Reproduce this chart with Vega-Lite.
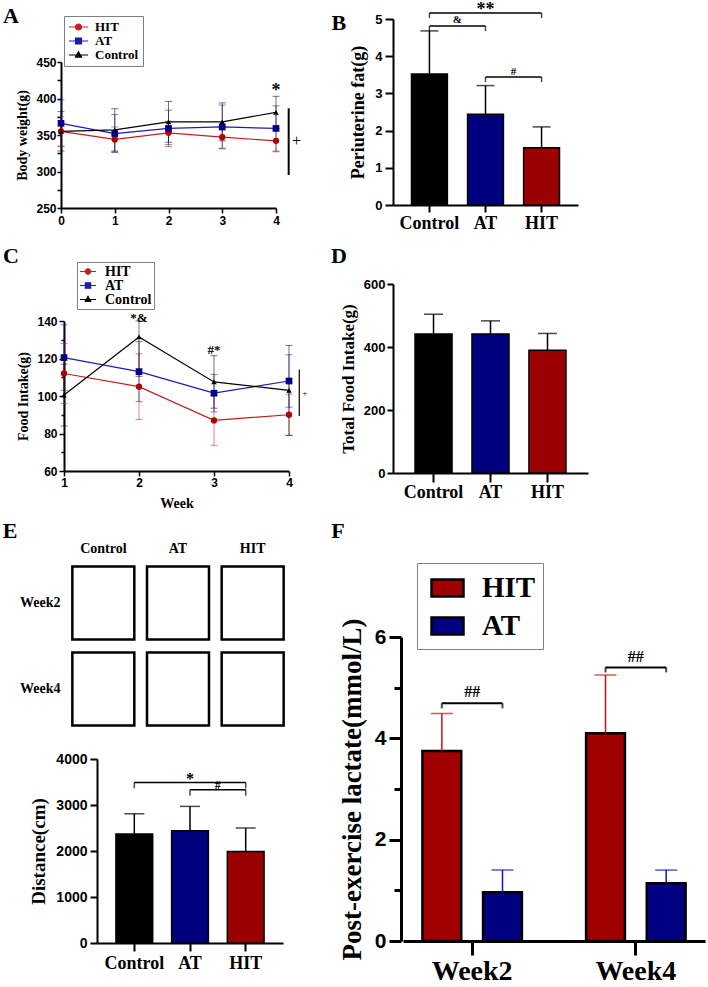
{
"$schema": "https://vega.github.io/schema/vega-lite/v6.json",
"width": 708, "height": 987, "autosize": {"type": "none"}, "padding": 0, "background": "white",
"config": {"view": {"stroke": null}, "axis": {"grid": false, "domainColor": "black", "tickColor": "black", "labelColor": "black", "titleColor": "black", "labelFlush": false, "labelOverlap": false}},
"datasets": {
"bw": [
{"week":0,"group":"HIT","mean":355,"err":20},{"week":1,"group":"HIT","mean":344,"err":17},{"week":2,"group":"HIT","mean":353,"err":16},{"week":3,"group":"HIT","mean":347,"err":15},{"week":4,"group":"HIT","mean":342,"err":15},
{"week":0,"group":"AT","mean":366,"err":32},{"week":1,"group":"AT","mean":352,"err":26},{"week":2,"group":"AT","mean":359,"err":25},{"week":3,"group":"AT","mean":361,"err":30},{"week":4,"group":"AT","mean":359,"err":31},
{"week":0,"group":"Control","mean":355,"err":27},{"week":1,"group":"Control","mean":357,"err":29},{"week":2,"group":"Control","mean":368,"err":28},{"week":3,"group":"Control","mean":368,"err":26},{"week":4,"group":"Control","mean":381,"err":22}],
"bwMarks": [{"label":"*","week":4,"level":403}],
"food": [
{"week":1,"group":"HIT","mean":112,"err":16},{"week":2,"group":"HIT","mean":105,"err":17.5},{"week":3,"group":"HIT","mean":87,"err":13.3},{"week":4,"group":"HIT","mean":90,"err":11},
{"week":1,"group":"AT","mean":120.5,"err":17.5},{"week":2,"group":"AT","mean":113,"err":16},{"week":3,"group":"AT","mean":101.5,"err":10},{"week":4,"group":"AT","mean":108,"err":14},
{"week":1,"group":"Control","mean":100.5,"err":16.5},{"week":2,"group":"Control","mean":131.5,"err":21},{"week":3,"group":"Control","mean":107.5,"err":14},{"week":4,"group":"Control","mean":103,"err":24}],
"foodMarks": [{"label":"*&","week":2,"level":139.4},{"label":"#*","week":3,"level":122.5}],
"fat": [{"group":"Control","mean":3.52,"upper":4.68},{"group":"AT","mean":2.44,"upper":3.21},{"group":"HIT","mean":1.54,"upper":2.1}],
"fatBrackets": [{"id":"c-h","group":"Control","level":5.16},{"id":"c-h","group":"HIT","level":5.16},{"id":"c-a","group":"Control","level":4.81},{"id":"c-a","group":"AT","level":4.81},{"id":"a-h","group":"AT","level":3.44},{"id":"a-h","group":"HIT","level":3.44}],
"fatMarks": [{"label":"**","anchor":"AT","level":5.11,"between":false},{"label":"&","anchor":"Control","level":4.89,"between":true},{"label":"#","anchor":"AT","level":3.49,"between":true}],
"total": [{"group":"Control","mean":441,"upper":504},{"group":"AT","mean":441,"upper":483},{"group":"HIT","mean":390,"upper":443}],
"maze": [{"group":"Control","week":"Week2"},{"group":"AT","week":"Week2"},{"group":"HIT","week":"Week2"},{"group":"Control","week":"Week4"},{"group":"AT","week":"Week4"},{"group":"HIT","week":"Week4"}],
"dist": [{"group":"Control","mean":2370,"upper":2811},{"group":"AT","mean":2441,"upper":2970},{"group":"HIT","mean":1991,"upper":2500}],
"distBrackets": [{"id":"c-h","group":"Control","level":3490},{"id":"c-h","group":"HIT","level":3490},{"id":"a-h","group":"AT","level":3333},{"id":"a-h","group":"HIT","level":3333}],
"distMarks": [{"label":"*","anchor":"AT","level":3463,"between":false},{"label":"#","anchor":"AT","level":3343,"between":true}],
"lact": [{"week":"Week2","group":"HIT","mean":3.75,"upper":4.49},{"week":"Week2","group":"AT","mean":0.96,"upper":1.4},{"week":"Week4","group":"HIT","mean":4.1,"upper":5.25},{"week":"Week4","group":"AT","mean":1.14,"upper":1.4}],
"lactBrackets": [{"week":"Week2","group":"HIT","level":4.69},{"week":"Week2","group":"AT","level":4.69},{"week":"Week4","group":"HIT","level":5.4},{"week":"Week4","group":"AT","level":5.4}],
"lactMarks": [{"label":"##","week":"Week2","level":4.81},{"label":"##","week":"Week4","level":5.5}]
},
"resolve": {
"scale": {"x":"independent","y":"independent","color":"independent","fill":"independent","stroke":"independent","shape":"independent","xOffset":"independent"},
"axis": {"x":"independent","y":"independent"},
"legend": {"color":"independent","fill":"independent","stroke":"independent","shape":"independent"}
},
"layer": [
{
"layer": [
{"data":{"name":"bw"},"mark":{"type":"errorbar","ticks":{"size":7},"thickness":1,"opacity":0.55},
 "encoding":{"x":{"field":"week","type":"quantitative","title":null},"y":{"field":"mean","type":"quantitative","title":"Body weight(g)"},"yError":{"field":"err"},"color":{"field":"group","type":"nominal","legend":null}}},
{"data":{"name":"bw"},"mark":{"type":"line","strokeWidth":1.2},
 "encoding":{
  "x":{"field":"week","type":"quantitative","scale":{"domain":[0,4],"range":[61,276],"nice":false,"zero":false},
       "axis":{"orient":"bottom","offset":-779,"values":[0,1,2,3,4],"format":"d","title":null,"tickSize":5,"tickWidth":1.5,"domainWidth":2,"labelFont":"Liberation Sans","labelFontSize":12,"labelFontWeight":"bold","labelPadding":2}},
  "y":{"field":"mean","type":"quantitative","scale":{"domain":[250,450],"range":[208,62],"nice":false,"zero":false},
       "axis":{"orient":"left","offset":-61,"values":[250,275,300,325,350,375,400,425,450],"format":"d","labelExpr":"datum.value % 50 === 0 ? datum.label : ''","title":"Body weight(g)","tickSize":4,"tickWidth":1.5,"domainWidth":2,"labelFont":"Liberation Sans","labelFontSize":12,"labelFontWeight":"bold","labelPadding":1,"titleFont":"Liberation Serif","titleFontSize":14,"titleFontWeight":"bold","titlePadding":6}},
  "color":{"field":"group","type":"nominal","scale":{"domain":["Control","AT","HIT"],"range":["#000000","#1c1cb0","#c41e1e"]},"legend":null}}},
{"data":{"name":"bw"},"transform":[{"filter":"datum.group === 'HIT'"}],"mark":{"type":"point","shape":"circle","filled":true,"size":40,"color":"#b00000","opacity":1},
 "encoding":{"x":{"field":"week","type":"quantitative"},"y":{"field":"mean","type":"quantitative"}}},
{"data":{"name":"bw"},"transform":[{"filter":"datum.group === 'AT'"}],"mark":{"type":"point","shape":"square","filled":true,"size":45,"color":"#00008c","opacity":1},
 "encoding":{"x":{"field":"week","type":"quantitative"},"y":{"field":"mean","type":"quantitative"}}},
{"data":{"name":"bw"},"transform":[{"filter":"datum.group === 'Control'"}],"mark":{"type":"point","shape":"triangle-up","filled":true,"size":30,"color":"#000000","opacity":1},
 "encoding":{"x":{"field":"week","type":"quantitative"},"y":{"field":"mean","type":"quantitative"}}},
{"data":{"name":"bwMarks"},"mark":{"type":"text","font":"Liberation Serif","fontWeight":"bold","fontSize":18,"baseline":"alphabetic","color":"black"},
 "encoding":{"x":{"field":"week","type":"quantitative"},"y":{"field":"level","type":"quantitative"},"text":{"field":"label"}}},
{"data":{"values":[{}]},"mark":{"type":"rule","strokeWidth":2,"color":"black"},
 "encoding":{"x":{"datum":4.236},"y":{"datum":386.6},"y2":{"datum":295.2}}},
{"data":{"values":[{}]},"mark":{"type":"text","text":"+","font":"Liberation Serif","fontSize":16,"baseline":"middle","align":"center","color":"black"},
 "encoding":{"x":{"datum":4.38},"y":{"datum":341.8}}},
{"data":{"values":[{}]},"mark":{"type":"text","text":"A","font":"Liberation Serif","fontSize":22,"fontWeight":"bold","baseline":"alphabetic","align":"left","color":"black"},
 "encoding":{"x":{"datum":-1.08},"y":{"datum":503}}},
{"data":{"name":"bw"},"transform":[{"filter":"false"}],"mark":{"type":"point","filled":true,"size":144,"strokeWidth":1.2},
 "encoding":{"x":{"field":"week","type":"quantitative"},"y":{"field":"mean","type":"quantitative"},
  "fill":{"field":"group","type":"nominal","scale":{"domain":["HIT","AT","Control"],"range":["#c41e1e","#1c1cb0","#000000"]},
    "legend":{"title":null,"orient":"none","legendX":64,"legendY":16,"padding":4,"strokeColor":"#808080","fillColor":"white","symbolSize":144,"symbolStrokeWidth":1.2,"symbolOffset":3.5,"labelOffset":9.5,"labelFont":"Liberation Serif","labelFontSize":13,"labelFontWeight":"bold","labelColor":"black","rowPadding":0,"symbolOpacity":1}},
  "stroke":{"field":"group","type":"nominal","scale":{"domain":["HIT","AT","Control"],"range":["#c41e1e","#1c1cb0","#000000"]},
    "legend":{"title":null,"orient":"none","legendX":64,"legendY":16,"padding":4,"strokeColor":"#808080","fillColor":"white","symbolSize":144,"symbolStrokeWidth":1.2,"symbolOffset":3.5,"labelOffset":9.5,"labelFont":"Liberation Serif","labelFontSize":13,"labelFontWeight":"bold","labelColor":"black","rowPadding":0,"symbolOpacity":1}},
  "shape":{"field":"group","type":"nominal","scale":{"domain":["HIT","AT","Control"],"range":["M-1.6,0H1.6M0.5,0A0.5,0.5 0 1 1 -0.5,0A0.5,0.5 0 1 1 0.5,0Z","M-1.6,0H1.6M-0.5,-0.5H0.5V0.5H-0.5Z","M-1.6,0H1.6M0,-0.55L0.5,0.35H-0.5Z"]},
    "legend":{"title":null,"orient":"none","legendX":64,"legendY":16,"padding":4,"strokeColor":"#808080","fillColor":"white","symbolSize":144,"symbolStrokeWidth":1.2,"symbolOffset":3.5,"labelOffset":9.5,"labelFont":"Liberation Serif","labelFontSize":13,"labelFontWeight":"bold","labelColor":"black","rowPadding":0,"symbolOpacity":1}}}}
]
},
{
"layer": [
{"data":{"name":"fat"},"mark":{"type":"bar","stroke":"black","strokeWidth":1.5},
 "encoding":{
  "x":{"field":"group","type":"nominal","scale":{"domain":["Control","AT","HIT"],"range":[393,578],"paddingInner":0.36,"paddingOuter":0.33},
       "axis":{"orient":"bottom","offset":-782,"title":null,"labelAngle":0,"tickSize":7,"tickWidth":2,"domainWidth":2,"labelFont":"Liberation Serif","labelFontSize":18,"labelFontWeight":"bold","labelPadding":2}},
  "y":{"field":"mean","type":"quantitative","scale":{"domain":[0,5],"range":[205,19],"nice":false,"zero":false},
       "axis":{"orient":"left","offset":-393,"values":[0,1,2,3,4,5],"format":"d","title":"Periuterine fat(g)","tickSize":8,"tickWidth":2,"domainWidth":2,"labelFont":"Liberation Sans","labelFontSize":13,"labelFontWeight":"bold","labelPadding":3,"titleFont":"Liberation Serif","titleFontSize":18,"titleFontWeight":"bold","titlePadding":7}},
  "color":{"field":"group","type":"nominal","scale":{"domain":["Control","AT","HIT"],"range":["#000000","#00007f","#9b0000"]},"legend":null}}},
{"data":{"name":"fat"},"mark":{"type":"rule","color":"black","strokeWidth":1.5},
 "encoding":{"x":{"field":"group","type":"nominal"},"y":{"field":"mean","type":"quantitative"},"y2":{"field":"upper"}}},
{"data":{"name":"fat"},"mark":{"type":"tick","color":"black","thickness":1.5,"size":18},
 "encoding":{"x":{"field":"group","type":"nominal"},"y":{"field":"upper","type":"quantitative"}}},
{"data":{"name":"fatBrackets"},"mark":{"type":"line","color":"black","strokeWidth":1.5},
 "encoding":{"x":{"field":"group","type":"nominal"},"y":{"field":"level","type":"quantitative"},"detail":{"field":"id"}}},
{"data":{"name":"fatBrackets"},"mark":{"type":"tick","orient":"vertical","color":"black","thickness":1.5,"size":5,"yOffset":2.5},
 "encoding":{"x":{"field":"group","type":"nominal"},"y":{"field":"level","type":"quantitative"}}},
{"data":{"name":"fatMarks"},"transform":[{"filter":"!datum.between"}],"mark":{"type":"text","font":"Liberation Serif","fontWeight":"bold","fontSize":18,"baseline":"alphabetic","color":"black"},
 "encoding":{"x":{"field":"anchor","type":"nominal"},"y":{"field":"level","type":"quantitative"},"text":{"field":"label"}}},
{"data":{"name":"fatMarks"},"transform":[{"filter":"datum.between"}],"mark":{"type":"text","font":"Liberation Serif","fontWeight":"bold","fontSize":11,"baseline":"alphabetic","color":"black"},
 "encoding":{"x":{"field":"anchor","type":"nominal","bandPosition":1.28},"y":{"field":"level","type":"quantitative"},"text":{"field":"label"}}},
{"data":{"values":[{}]},"mark":{"type":"text","text":"B","font":"Liberation Serif","fontSize":22,"fontWeight":"bold","baseline":"alphabetic","align":"left","color":"black","dx":-98},
 "encoding":{"x":{"datum":"Control"},"y":{"datum":4.7}}}
]
},
{
"layer": [
{"data":{"name":"food"},"mark":{"type":"errorbar","ticks":{"size":7},"thickness":1,"opacity":0.55},
 "encoding":{"x":{"field":"week","type":"quantitative","title":"Week"},"y":{"field":"mean","type":"quantitative","title":"Food Intake(g)"},"yError":{"field":"err"},"color":{"field":"group","type":"nominal","legend":null}}},
{"data":{"name":"food"},"mark":{"type":"line","strokeWidth":1.2},
 "encoding":{
  "x":{"field":"week","type":"quantitative","scale":{"domain":[1,4],"range":[64,289],"nice":false,"zero":false},
       "axis":{"orient":"bottom","offset":-516,"values":[1,2,3,4],"format":"d","title":"Week","tickSize":5,"tickWidth":1.5,"domainWidth":2,"labelFont":"Liberation Sans","labelFontSize":12,"labelFontWeight":"bold","labelPadding":1,"titleFont":"Liberation Serif","titleFontSize":14,"titleFontWeight":"bold","titlePadding":8}},
  "y":{"field":"mean","type":"quantitative","scale":{"domain":[60,140],"range":[471,321],"nice":false,"zero":false,"clamp":true},
       "axis":{"orient":"left","offset":-64,"values":[60,70,80,90,100,110,120,130,140],"format":"d","labelExpr":"datum.value % 20 === 0 ? datum.label : ''","tickSize":{"condition":{"test":"datum.value % 20 !== 0","value":3},"value":5},"title":"Food Intake(g)","tickWidth":1.5,"domainWidth":2,"labelFont":"Liberation Sans","labelFontSize":12,"labelFontWeight":"bold","labelPadding":2,"titleFont":"Liberation Serif","titleFontSize":14,"titleFontWeight":"bold","titlePadding":6}},
  "color":{"field":"group","type":"nominal","scale":{"domain":["Control","AT","HIT"],"range":["#000000","#1c1cb0","#c41e1e"]},"legend":null}}},
{"data":{"name":"food"},"transform":[{"filter":"datum.group === 'HIT'"}],"mark":{"type":"point","shape":"circle","filled":true,"size":40,"color":"#b00000","opacity":1},
 "encoding":{"x":{"field":"week","type":"quantitative"},"y":{"field":"mean","type":"quantitative"}}},
{"data":{"name":"food"},"transform":[{"filter":"datum.group === 'AT'"}],"mark":{"type":"point","shape":"square","filled":true,"size":45,"color":"#00008c","opacity":1},
 "encoding":{"x":{"field":"week","type":"quantitative"},"y":{"field":"mean","type":"quantitative"}}},
{"data":{"name":"food"},"transform":[{"filter":"datum.group === 'Control'"}],"mark":{"type":"point","shape":"triangle-up","filled":true,"size":30,"color":"#000000","opacity":1},
 "encoding":{"x":{"field":"week","type":"quantitative"},"y":{"field":"mean","type":"quantitative"}}},
{"data":{"name":"foodMarks"},"mark":{"type":"text","font":"Liberation Serif","fontWeight":"bold","fontSize":13,"baseline":"alphabetic","color":"black"},
 "encoding":{"x":{"field":"week","type":"quantitative"},"y":{"field":"level","type":"quantitative"},"text":{"field":"label"}}},
{"data":{"values":[{}]},"mark":{"type":"rule","strokeWidth":1.2,"color":"black"},
 "encoding":{"x":{"datum":4.137},"y":{"datum":114.1},"y2":{"datum":89.3}}},
{"data":{"values":[{}]},"mark":{"type":"text","text":"+","font":"Liberation Serif","fontSize":9,"baseline":"middle","align":"center","color":"black"},
 "encoding":{"x":{"datum":4.21},"y":{"datum":101.4}}},
{"data":{"values":[{}]},"mark":{"type":"text","text":"C","font":"Liberation Serif","fontSize":22,"fontWeight":"bold","baseline":"alphabetic","align":"left","color":"black","dy":-58},
 "encoding":{"x":{"datum":0.187},"y":{"datum":140}}},
{"data":{"name":"food"},"transform":[{"filter":"false"}],"mark":{"type":"point","filled":true,"size":144,"strokeWidth":1.2},
 "encoding":{"x":{"field":"week","type":"quantitative"},"y":{"field":"mean","type":"quantitative"},
  "fill":{"field":"group","type":"nominal","scale":{"domain":["HIT","AT","Control"],"range":["#c41e1e","#1c1cb0","#000000"]},
    "legend":{"title":null,"orient":"none","legendX":77,"legendY":262,"padding":2.5,"strokeColor":"#808080","fillColor":"white","symbolSize":144,"symbolStrokeWidth":1.2,"symbolOffset":1.5,"labelOffset":10,"labelFont":"Liberation Serif","labelFontSize":14,"labelFontWeight":"bold","labelColor":"black","rowPadding":0,"symbolOpacity":1,"labelExpr":"datum.label + '     '"}},
  "stroke":{"field":"group","type":"nominal","scale":{"domain":["HIT","AT","Control"],"range":["#c41e1e","#1c1cb0","#000000"]},
    "legend":{"title":null,"orient":"none","legendX":77,"legendY":262,"padding":2.5,"strokeColor":"#808080","fillColor":"white","symbolSize":144,"symbolStrokeWidth":1.2,"symbolOffset":1.5,"labelOffset":10,"labelFont":"Liberation Serif","labelFontSize":14,"labelFontWeight":"bold","labelColor":"black","rowPadding":0,"symbolOpacity":1,"labelExpr":"datum.label + '     '"}},
  "shape":{"field":"group","type":"nominal","scale":{"domain":["HIT","AT","Control"],"range":["M-1.35,0H1.35M0.45,0A0.45,0.45 0 1 1 -0.45,0A0.45,0.45 0 1 1 0.45,0Z","M-1.35,0H1.35M-0.45,-0.45H0.45V0.45H-0.45Z","M-1.35,0H1.35M0,-0.5L0.45,0.3H-0.45Z"]},
    "legend":{"title":null,"orient":"none","legendX":77,"legendY":262,"padding":2.5,"strokeColor":"#808080","fillColor":"white","symbolSize":144,"symbolStrokeWidth":1.2,"symbolOffset":1.5,"labelOffset":10,"labelFont":"Liberation Serif","labelFontSize":14,"labelFontWeight":"bold","labelColor":"black","rowPadding":0,"symbolOpacity":1,"labelExpr":"datum.label + '     '"}}}}
]
},
{
"layer": [
{"data":{"name":"total"},"mark":{"type":"bar","stroke":"black","strokeWidth":1.5},
 "encoding":{
  "x":{"field":"group","type":"nominal","scale":{"domain":["Control","AT","HIT"],"range":[393,588],"paddingInner":0.35,"paddingOuter":0.386},
       "axis":{"orient":"bottom","offset":-514,"title":null,"labelAngle":0,"tickSize":9,"tickWidth":2,"domainWidth":2,"labelFont":"Liberation Serif","labelFontSize":18,"labelFontWeight":"bold","labelPadding":1}},
  "y":{"field":"mean","type":"quantitative","scale":{"domain":[0,600],"range":[473,284],"nice":false,"zero":false},
       "axis":{"orient":"left","offset":-393,"values":[0,200,400,600],"format":"d","title":"Total Food Intake(g)","tickSize":6,"tickWidth":2,"domainWidth":2,"labelFont":"Liberation Sans","labelFontSize":13,"labelFontWeight":"bold","labelPadding":2,"titleFont":"Liberation Serif","titleFontSize":17,"titleFontWeight":"bold","titlePadding":6}},
  "color":{"field":"group","type":"nominal","scale":{"domain":["Control","AT","HIT"],"range":["#000000","#00007f","#9b0000"]},"legend":null}}},
{"data":{"name":"total"},"mark":{"type":"rule","color":"black","strokeWidth":1.5},
 "encoding":{"x":{"field":"group","type":"nominal"},"y":{"field":"mean","type":"quantitative"},"y2":{"field":"upper"}}},
{"data":{"name":"total"},"mark":{"type":"tick","color":"black","thickness":1.5,"size":19},
 "encoding":{"x":{"field":"group","type":"nominal"},"y":{"field":"upper","type":"quantitative"}}},
{"data":{"values":[{}]},"mark":{"type":"text","text":"D","font":"Liberation Serif","fontSize":22,"fontWeight":"bold","baseline":"alphabetic","align":"left","color":"black","dx":-102.5},
 "encoding":{"x":{"datum":"Control"},"y":{"datum":667}}}
]
},
{
"layer": [
{"data":{"name":"maze"},"mark":{"type":"rect","filled":false,"color":"black","strokeWidth":2.5},
 "encoding":{
  "x":{"field":"group","type":"nominal","scale":{"domain":["Control","AT","HIT"],"range":[66,290],"paddingInner":0.17,"paddingOuter":0.085},
       "axis":{"orient":"top","offset":-557,"title":null,"domain":false,"ticks":false,"tickSize":0,"labelAngle":0,"labelPadding":2,"labelFont":"Liberation Serif","labelFontSize":14,"labelFontWeight":"bold"}},
  "y":{"field":"week","type":"nominal","scale":{"domain":["Week2","Week4"],"range":[560,732],"paddingInner":0.15,"paddingOuter":0.075},
       "axis":{"orient":"left","offset":-62,"title":null,"domain":false,"ticks":false,"tickSize":0,"labelPadding":2,"labelFont":"Liberation Serif","labelFontSize":14,"labelFontWeight":"bold"}}}},
{"data":{"values":[{}]},"mark":{"type":"text","text":"E","font":"Liberation Serif","fontSize":22,"fontWeight":"bold","baseline":"alphabetic","align":"left","color":"black","dx":-100.5,"dy":-65},
 "encoding":{"x":{"datum":"Control"},"y":{"datum":"Week2"}}}
]
},
{
"layer": [
{"data":{"name":"dist"},"mark":{"type":"bar","stroke":"black","strokeWidth":1.5},
 "encoding":{
  "x":{"field":"group","type":"nominal","scale":{"domain":["Control","AT","HIT"],"range":[97,283],"paddingInner":0.34,"paddingOuter":0.34},
       "axis":{"orient":"bottom","offset":-44,"title":null,"labelAngle":0,"tickSize":8,"tickWidth":2,"domainWidth":2,"labelFont":"Liberation Serif","labelFontSize":18,"labelFontWeight":"bold","labelPadding":3}},
  "y":{"field":"mean","type":"quantitative","scale":{"domain":[0,4000],"range":[943,759],"nice":false,"zero":false},
       "axis":{"orient":"left","offset":-97,"values":[0,1000,2000,3000,4000],"format":"d","title":"Distance(cm)","tickSize":7,"tickWidth":2,"domainWidth":2,"labelFont":"Liberation Sans","labelFontSize":14,"labelFontWeight":"bold","labelPadding":3,"titleFont":"Liberation Serif","titleFontSize":19,"titleFontWeight":"bold","titlePadding":7}},
  "color":{"field":"group","type":"nominal","scale":{"domain":["Control","AT","HIT"],"range":["#000000","#00007f","#9b0000"]},"legend":null}}},
{"data":{"name":"dist"},"mark":{"type":"rule","color":"black","strokeWidth":1.5},
 "encoding":{"x":{"field":"group","type":"nominal"},"y":{"field":"mean","type":"quantitative"},"y2":{"field":"upper"}}},
{"data":{"name":"dist"},"mark":{"type":"tick","color":"black","thickness":1.5,"size":20},
 "encoding":{"x":{"field":"group","type":"nominal"},"y":{"field":"upper","type":"quantitative"}}},
{"data":{"name":"distBrackets"},"mark":{"type":"line","color":"black","strokeWidth":1.5},
 "encoding":{"x":{"field":"group","type":"nominal"},"y":{"field":"level","type":"quantitative"},"detail":{"field":"id"}}},
{"data":{"name":"distBrackets"},"mark":{"type":"tick","orient":"vertical","color":"black","thickness":1.5,"size":6,"yOffset":3},
 "encoding":{"x":{"field":"group","type":"nominal"},"y":{"field":"level","type":"quantitative"}}},
{"data":{"name":"distMarks"},"transform":[{"filter":"!datum.between"}],"mark":{"type":"text","font":"Liberation Serif","fontWeight":"bold","fontSize":16,"baseline":"alphabetic","color":"black"},
 "encoding":{"x":{"field":"anchor","type":"nominal"},"y":{"field":"level","type":"quantitative"},"text":{"field":"label"}}},
{"data":{"name":"distMarks"},"transform":[{"filter":"datum.between"}],"mark":{"type":"text","font":"Liberation Serif","fontWeight":"bold","fontSize":12,"baseline":"alphabetic","color":"black"},
 "encoding":{"x":{"field":"anchor","type":"nominal","bandPosition":1.257},"y":{"field":"level","type":"quantitative"},"text":{"field":"label"}}}
]
},
{
"layer": [
{"data":{"name":"lact"},"mark":{"type":"bar","strokeWidth":2.5},
 "encoding":{
  "x":{"field":"week","type":"nominal","scale":{"domain":["Week2","Week4"],"range":[403,705],"paddingInner":0.155,"paddingOuter":0},
       "axis":{"orient":"bottom","offset":-46,"title":null,"labelAngle":0,"tickSize":14,"tickWidth":3,"domainWidth":3,"labelFont":"Liberation Serif","labelFontSize":28,"labelFontWeight":"bold","labelPadding":2}},
  "xOffset":{"field":"group","type":"nominal","scale":{"domain":["HIT","AT"],"paddingInner":0.36,"paddingOuter":0.32}},
  "y":{"field":"mean","type":"quantitative","scale":{"domain":[0,6],"range":[941,637],"nice":false,"zero":false},
       "axis":{"orient":"left","offset":-401,"values":[0,1,2,3,4,5,6],"format":"d","labelExpr":"datum.value % 2 === 0 ? datum.label : ''","tickSize":{"condition":{"test":"datum.value % 2 !== 0","value":7},"value":12},"tickWidth":3,"domainWidth":3,"title":"Post-exercise lactate(mmol/L)","labelFont":"Liberation Sans","labelFontSize":21,"labelFontWeight":"bold","labelPadding":3,"titleFont":"Liberation Serif","titleFontSize":27,"titleFontWeight":"bold","titlePadding":8}},
  "fill":{"field":"group","type":"nominal","scale":{"domain":["HIT","AT"],"range":["#a00000","#000080"]},
    "legend":{"title":null,"orient":"none","legendX":417,"legendY":563,"padding":7.5,"strokeColor":"#808080","fillColor":"white","symbolType":"M-1,-0.53H1V0.53H-1Z","symbolSize":1024,"symbolStrokeWidth":2.5,"symbolOffset":5.5,"labelOffset":17,"labelFont":"Liberation Serif","labelFontSize":29,"labelFontWeight":"bold","labelColor":"black","rowPadding":5,"symbolOpacity":1,"labelExpr":"datum.label + '    '"}},
  "stroke":{"field":"group","type":"nominal","scale":{"domain":["HIT","AT"],"range":["#000000","#000000"]},
    "legend":{"title":null,"orient":"none","legendX":417,"legendY":563,"padding":7.5,"strokeColor":"#808080","fillColor":"white","symbolType":"M-1,-0.53H1V0.53H-1Z","symbolSize":1024,"symbolStrokeWidth":2.5,"symbolOffset":5.5,"labelOffset":17,"labelFont":"Liberation Serif","labelFontSize":29,"labelFontWeight":"bold","labelColor":"black","rowPadding":5,"symbolOpacity":1,"labelExpr":"datum.label + '    '"}}}},
{"data":{"name":"lact"},"mark":{"type":"rule","strokeWidth":1.5},
 "encoding":{"x":{"field":"week","type":"nominal"},"xOffset":{"field":"group","type":"nominal"},"y":{"field":"mean","type":"quantitative"},"y2":{"field":"upper"},
  "color":{"field":"group","type":"nominal","scale":{"domain":["AT","HIT"],"range":["#1111cc","#cc1111"]},"legend":null}}},
{"data":{"name":"lact"},"mark":{"type":"tick","thickness":1.5,"size":22},
 "encoding":{"x":{"field":"week","type":"nominal"},"xOffset":{"field":"group","type":"nominal"},"y":{"field":"upper","type":"quantitative"},
  "color":{"field":"group","type":"nominal","legend":null}}},
{"data":{"name":"lactBrackets"},"mark":{"type":"line","color":"black","strokeWidth":2},
 "encoding":{"x":{"field":"week","type":"nominal"},"xOffset":{"field":"group","type":"nominal"},"y":{"field":"level","type":"quantitative"},"detail":{"field":"week"}}},
{"data":{"name":"lactBrackets"},"mark":{"type":"tick","orient":"vertical","color":"black","thickness":2,"size":5,"yOffset":2.5},
 "encoding":{"x":{"field":"week","type":"nominal"},"xOffset":{"field":"group","type":"nominal"},"y":{"field":"level","type":"quantitative"}}},
{"data":{"name":"lactMarks"},"mark":{"type":"text","font":"Liberation Serif","fontWeight":"bold","fontSize":16,"baseline":"alphabetic","color":"black"},
 "encoding":{"x":{"field":"week","type":"nominal"},"y":{"field":"level","type":"quantitative"},"text":{"field":"label"}}},
{"data":{"values":[{}]},"mark":{"type":"text","text":"F","font":"Liberation Serif","fontSize":22,"fontWeight":"bold","baseline":"alphabetic","align":"left","color":"black","dx":-141},
 "encoding":{"x":{"datum":"Week2"},"y":{"datum":7.95}}}
]
}
]
}
